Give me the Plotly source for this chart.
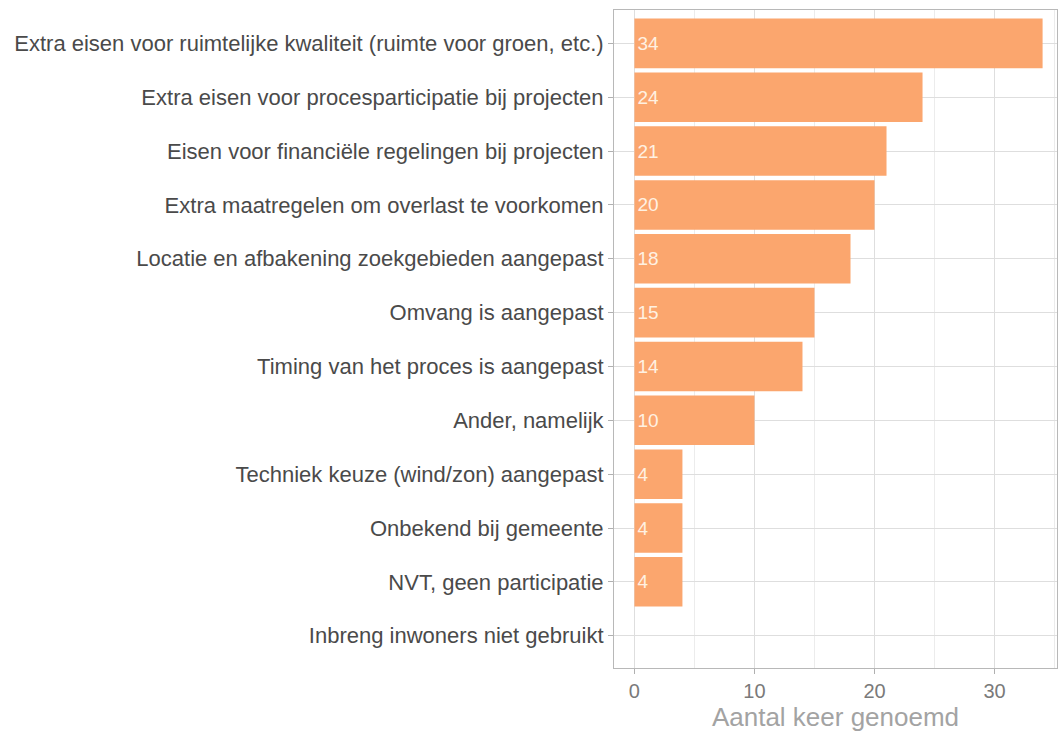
import plotly.graph_objects as go

categories = [
    "Extra eisen voor ruimtelijke kwaliteit (ruimte voor groen, etc.)",
    "Extra eisen voor procesparticipatie bij projecten",
    "Eisen voor financiële regelingen bij projecten",
    "Extra maatregelen om overlast te voorkomen",
    "Locatie en afbakening zoekgebieden aangepast",
    "Omvang is aangepast",
    "Timing van het proces is aangepast",
    "Ander, namelijk",
    "Techniek keuze (wind/zon) aangepast",
    "Onbekend bij gemeente",
    "NVT, geen participatie",
    "Inbreng inwoners niet gebruikt",
]
values = [34, 24, 21, 20, 18, 15, 14, 10, 4, 4, 4, 0]
x_ticks = [0, 10, 20, 30]
x_title = "Aantal keer genoemd"

labels = [str(v) if v > 0 else "" for v in values]
FONT = "Liberation Sans, Arial, sans-serif"

fig = go.Figure(go.Bar(
    x=values,
    y=categories,
    orientation="h",
    width=0.92,
    marker=dict(color="#FBA66E", line=dict(width=0)),
    text=labels,
    textposition="inside",
    insidetextanchor="start",
    textfont=dict(color="#FFF1E2", size=19, family=FONT),
    cliponaxis=False,
    hoverinfo="skip",
))

fig.update_layout(
    width=1061,
    height=735,
    margin=dict(l=614, r=4, t=10, b=67),
    plot_bgcolor="white",
    paper_bgcolor="white",
    font=dict(family=FONT),
    showlegend=False,
    uniformtext=dict(minsize=19, mode="show"),
    xaxis=dict(
        range=[-1.7, 35.2],
        tickvals=x_ticks,
        ticktext=[str(t) for t in x_ticks],
        ticks="outside",
        ticklen=5,
        tickcolor="#b0b0b0",
        tickfont=dict(size=20, color="#7a7a7a"),
        showgrid=True,
        gridcolor="#dedede",
        gridwidth=1,
        minor=dict(tickvals=[5, 15, 25, 35], showgrid=True, gridcolor="#ececec", gridwidth=1),
        showline=True,
        linecolor="#b8b8b8",
        mirror=True,
        zeroline=False,
        title=dict(text=x_title, font=dict(size=26, color="#a3a3a3"), standoff=2),
    ),
    yaxis=dict(
        categoryorder="array",
        categoryarray=categories[::-1],
        range=[-0.6, 11.62],
        ticks="outside",
        ticklen=5,
        tickcolor="#b0b0b0",
        tickfont=dict(size=22, color="#4a4a4a"),
        showgrid=True,
        gridcolor="#dedede",
        gridwidth=1,
        showline=True,
        linecolor="#b8b8b8",
        mirror=True,
        zeroline=False,
    ),
    bargap=0.08,
)

fig.write_html(
    "out.html",
    config={"displayModeBar": False},
    post_script="document.body.style.margin='0';document.body.style.overflow='hidden';",
)
